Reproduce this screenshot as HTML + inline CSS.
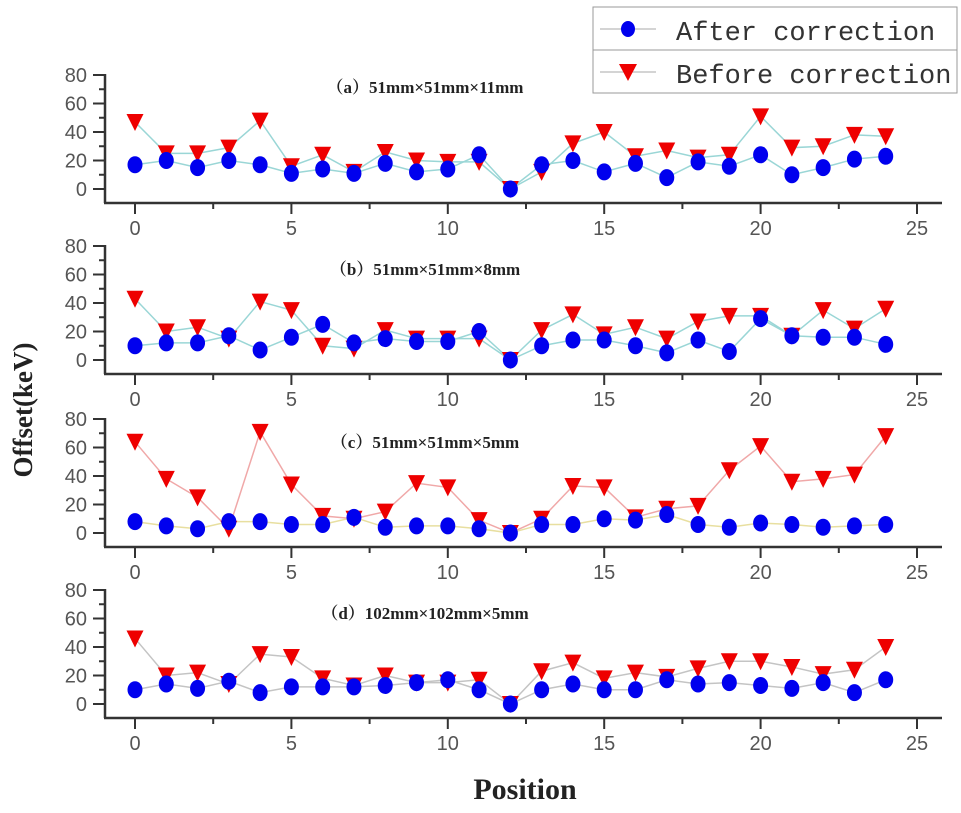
<!DOCTYPE html>
<html><head><meta charset="utf-8"><style>
body{margin:0;background:#fff;}
svg{display:block;}
</style></head><body>
<svg id="chart" width="961" height="813" xmlns="http://www.w3.org/2000/svg">
<text x="32" y="410" transform="rotate(-90 32 410)" text-anchor="middle" font-family="Liberation Serif, serif" font-weight="bold" font-size="27" fill="#222">Offset(keV)</text>
<text x="525" y="799" text-anchor="middle" font-family="Liberation Serif, serif" font-weight="bold" font-size="30" fill="#222">Position</text>
<g>
<rect x="593" y="7" width="364" height="43" fill="#fff" stroke="#999" stroke-width="1"/>
<rect x="593" y="50" width="364" height="43" fill="#fff" stroke="#999" stroke-width="1"/>
<line x1="600" y1="29" x2="656" y2="29" stroke="#aaa"/>
<ellipse cx="628" cy="29" rx="7" ry="8" fill="#0000ee"/>
<line x1="600" y1="72" x2="656" y2="72" stroke="#aaa"/>
<path d="M619,64 L637,64 L628,81 Z" fill="#ee0000"/>
<text x="676" y="40" font-family="Liberation Mono, monospace" font-size="27" fill="#333">After correction</text>
<text x="676" y="83" font-family="Liberation Mono, monospace" font-size="27" fill="#333">Before correction</text>
</g>
</svg>
<script>
const positions=[0,1,2,3,4,5,6,7,8,9,10,11,12,13,14,15,16,17,18,19,20,21,22,23,24];
const xTicks=[0,5,10,15,20,25];
const yTicks=[0,20,40,60,80];
const panelTitles=["（a）51mm×51mm×11mm","（b）51mm×51mm×8mm","（c）51mm×51mm×5mm","（d）102mm×102mm×5mm"];
const afterA=[17,20,15,20,17,11,14,11,18,12,14,24,0,17,20,12,18,8,19,16,24,10,15,21,23];
const beforeA=[47,25,25,29,48,16,24,12,26,20,19,19,0,12,32,40,23,27,22,24,51,29,30,38,37];
const afterB=[10,12,12,17,7,16,25,12,15,13,13,20,0,10,14,14,10,5,14,6,29,17,16,16,11];
const beforeB=[43,20,23,15,41,35,10,8,21,15,15,15,0,21,32,18,23,15,27,31,31,17,35,22,36];
const afterC=[8,5,3,8,8,6,6,11,4,5,5,3,0,6,6,10,9,13,6,4,7,6,4,5,6];
const beforeC=[64,38,25,3,71,34,12,10,15,35,32,9,0,10,33,32,11,17,19,44,61,36,38,41,68];
const afterD=[10,14,11,16,8,12,12,12,13,15,17,10,0,10,14,10,10,17,14,15,13,11,15,8,17];
const beforeD=[46,20,22,14,35,33,18,13,20,15,15,17,0,23,29,18,22,19,25,30,30,26,21,24,40];
const afterAll=[afterA,afterB,afterC,afterD];
const beforeAll=[beforeA,beforeB,beforeC,beforeD];
const NS="http://www.w3.org/2000/svg";
const svg=document.getElementById('chart');
const zeroY=[189,360,533,704];
const pxPerUnit=114/80;
const afterCol=["#9ad6d6","#9ad6d6","#e8dfa0","#c4c4c4"];
const beforeCol=["#9ad6d6","#9ad6d6","#f0a8a8","#c4c4c4"];
function xs(v){return 135+v*31.28;}
function mk(tag,attrs,parent){const e=document.createElementNS(NS,tag);for(const k in attrs)e.setAttribute(k,attrs[k]);(parent||svg).appendChild(e);return e;}
for(let p=0;p<4;p++){
  const z=zeroY[p];
  const ys=v=>z-v*pxPerUnit;
  const axisY=z+14;
  const g=mk('g',{});
  
  
  const ya=mk('line',{x1:105,y1:ys(80)-1,x2:105,y2:axisY,stroke:'#333','stroke-width':2.5},g);
  
  
  const xa=mk('line',{x1:104,y1:axisY,x2:942,y2:axisY,stroke:'#333','stroke-width':2.5},g);
  
  
  yTicks.forEach(t=>{
    mk('line',{x1:93,y1:ys(t),x2:105,y2:ys(t),stroke:'#333','stroke-width':2},g);
    if(t<80) mk('line',{x1:99,y1:ys(t+10),x2:105,y2:ys(t+10),stroke:'#333','stroke-width':2},g);
    const tl=mk('text',{x:87,y:ys(t)+7,'text-anchor':'end','font-family':'Liberation Sans, sans-serif','font-size':20,fill:'#555'},g);
    tl.textContent=t;
    
    
  });
  xTicks.forEach(t=>{
    mk('line',{x1:xs(t),y1:axisY,x2:xs(t),y2:axisY+11,stroke:'#333','stroke-width':2},g);
    if(t<25) mk('line',{x1:xs(t+2.5),y1:axisY,x2:xs(t+2.5),y2:axisY+6,stroke:'#333','stroke-width':2},g);
    const tl=mk('text',{x:xs(t),y:axisY+32,'text-anchor':'middle','font-family':'Liberation Sans, sans-serif','font-size':20,fill:'#555'},g);
    tl.textContent=t;
    
    
  });
  const tt=mk('text',{x:425,y:ys(80)+(p==0?18:29),'text-anchor':'middle','font-family':'Liberation Serif, "Noto Serif CJK SC", serif','font-weight':'bold','font-size':17,fill:'#222'},g);
  tt.textContent=panelTitles[p];
  
  
  const bef=beforeAll[p], aft=afterAll[p];
  const lb=mk('polyline',{points:positions.map(i=>xs(i)+','+ys(bef[i])).join(' '),fill:'none',stroke:beforeCol[p],'stroke-width':1.5},g);
  
  
  const la=mk('polyline',{points:positions.map(i=>xs(i)+','+ys(aft[i])).join(' '),fill:'none',stroke:afterCol[p],'stroke-width':1.5},g);
  
  
  positions.forEach(i=>{
    const x=xs(i),y=ys(bef[i]);
    const tri=mk('path',{d:`M${x-8.5},${y-8} L${x+8.5},${y-8} L${x},${y+9} Z`,fill:'#ee0000'},g);
    
    
  });
  positions.forEach(i=>{
    const c=mk('ellipse',{cx:xs(i),cy:ys(aft[i]),rx:7.5,ry:8.5,fill:'#0000ee'},g);
    
    
  });
}
</script>
</body></html>
